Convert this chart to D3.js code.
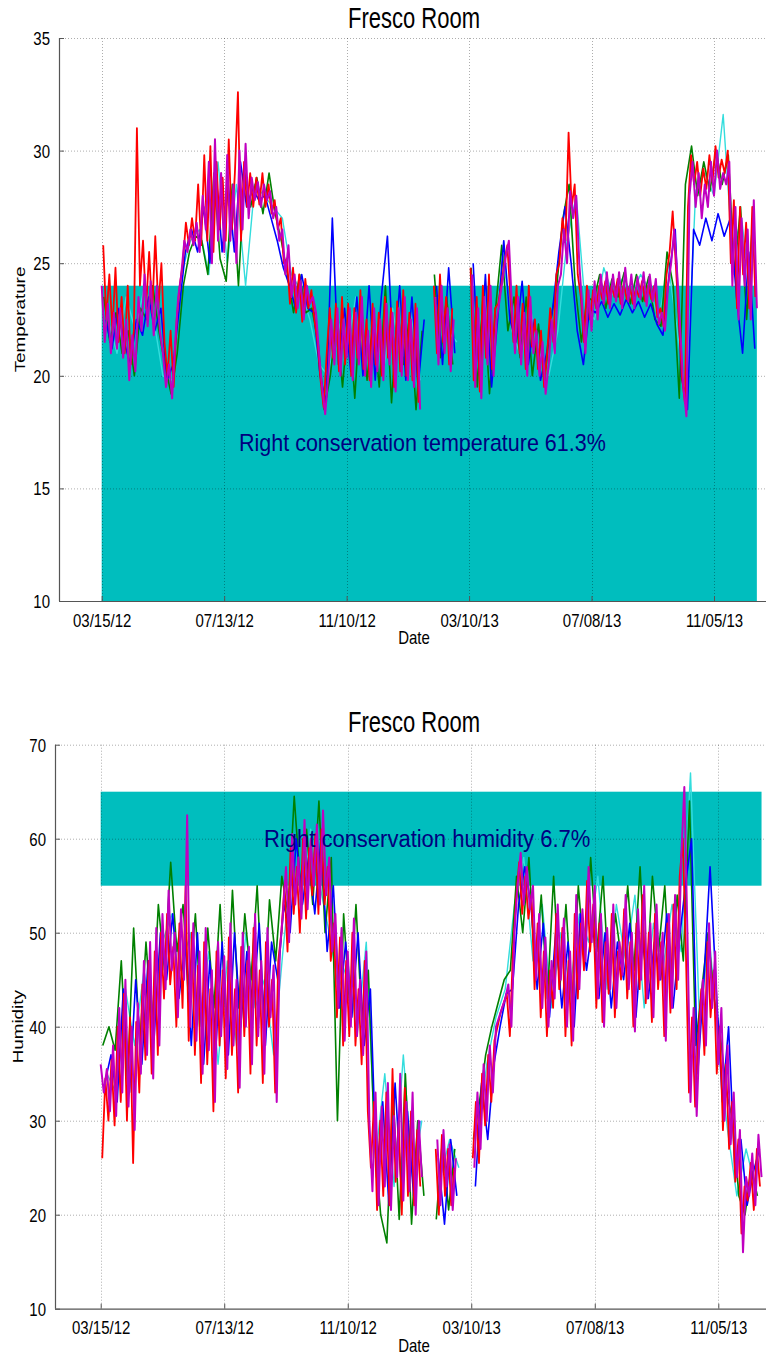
<!DOCTYPE html>
<html><head><meta charset="utf-8">
<script src="https://cdn.jsdelivr.net/npm/d3@7"></script>
<style>html,body{margin:0;padding:0;background:#fff;}svg{display:block;}</style>
</head><body>
<svg id="fig" width="766" height="1357"></svg>
<script>
// ---------------- DATA ----------------
const seriesStart = "2012-03-15";
const dateTicks = ["2012-03-15","2012-07-13","2012-11-10","2013-03-10","2013-07-08","2013-11-05"];
const bandStart = "2012-03-15", bandEnd = "2013-12-17";
const tempTicks = [10,15,20,25,30,35];
const humTicks = [10,20,30,40,50,60,70];
const tempBand = [10,24];
const humBand = [55,65];
const tempText = "Right conservation temperature 61.3%";
const humText = "Right conservation humidity 6.7%";
const seriesColors = {cyan:"#33dddd", green:"#008000", blue:"#0000ff", red:"#ff0000", magenta:"#c000c0"};
// sampling (days from seriesStart): [offset, step]
const sampling = {magenta:[0,3], red:[1.5,3], green:[2,6], blue:[4,6], cyan:[6,9]};

// Temperature (deg C)
const tempMagenta = [
24.0,21.5,23.2,21.0,22.8,21.2,23.0,20.8,22.5,19.8,
21.8,20.2,23.5,22.0,24.5,22.2,24.2,21.8,24.0,22.0,
21.0,19.5,20.5,19.0,21.5,23.5,24.5,26.0,25.5,26.5,
25.8,26.8,25.5,28.0,26.5,29.5,25.0,30.5,26.0,29.0,
25.5,29.8,26.0,28.5,25.0,30.0,26.5,30.3,27.0,28.8,
27.8,28.6,27.5,28.5,27.8,28.2,27.0,27.5,26.0,26.5,
24.5,25.8,23.5,24.5,23.0,24.2,22.5,24.0,23.2,23.5,
22.8,21.0,19.5,18.3,20.0,22.5,20.5,23.0,20.0,22.5,
20.8,23.0,19.8,22.8,20.5,23.5,20.0,22.0,19.5,23.0,
20.2,22.5,19.8,23.2,20.5,22.8,19.3,23.0,20.0,23.5,
19.8,22.5,19.5,23.0,18.5,null,null,null,null,23.5,
20.5,24.0,21.0,23.0,20.2,22.5,null,null,null,null,
null,24.5,19.5,23.0,19.0,23.5,20.5,24.0,20.0,22.5,
23.4,24.3,25.3,26.0,23.0,21.0,23.5,20.5,22.8,20.0,
23.5,21.0,22.0,20.0,21.5,19.2,20.5,22.5,21.0,24.0,
24.5,26.5,25.0,28.2,27.0,28.0,25.0,23.0,21.0,23.8,
22.0,24.2,22.5,24.5,23.2,24.6,23.0,24.5,23.3,24.6,
23.0,24.8,23.3,24.5,23.0,24.4,23.4,24.6,23.1,24.5,
23.3,24.3,22.3,22.8,22.0,24.0,25.0,26.5,24.5,22.0,
19.5,18.2,28.0,29.5,27.5,29.0,27.0,28.5,27.5,29.5,
28.0,30.0,28.3,29.0,28.5,29.5,24.0,27.5,22.5,27.0,
24.0,26.5,22.5,27.8,23.0];
const tempRed = [
25.8,22.5,24.5,22.0,24.8,21.5,23.5,21.0,24.0,20.5,
22.0,31.0,24.0,26.0,23.0,25.5,22.8,26.2,23.0,25.0,
21.5,20.0,22.0,19.5,22.5,24.0,25.0,26.8,25.8,27.0,
26.0,28.5,25.8,29.8,26.0,30.2,25.5,29.5,26.5,28.8,
26.0,30.5,26.5,29.0,32.6,26.0,29.5,27.5,29.0,27.5,
28.8,27.6,29.0,27.5,28.5,27.2,27.8,26.5,27.0,25.0,
25.2,23.2,24.8,22.8,24.5,22.4,24.3,23.0,23.8,22.5,
21.5,19.8,18.6,21.0,23.0,20.8,23.2,20.2,23.5,20.5,
23.2,20.0,23.0,20.8,23.8,20.3,22.5,19.8,23.2,20.5,
22.8,20.0,23.5,20.8,23.0,19.5,23.3,20.2,23.8,20.0,
22.8,19.8,23.2,18.8,null,null,null,null,24.0,21.0,
24.5,21.5,23.5,20.5,23.0,null,null,null,null,null,
24.8,19.8,23.5,19.3,24.0,20.8,24.5,20.3,23.0,23.2,
24.0,25.0,25.8,23.5,21.5,24.0,21.0,23.2,20.3,24.0,
21.3,22.5,20.3,22.0,19.5,21.0,23.0,21.5,24.5,25.0,
27.0,26.0,30.8,27.5,28.5,24.5,23.5,21.5,24.0,22.5,
23.8,23.0,24.0,23.4,24.2,23.2,24.0,23.5,24.3,23.2,
24.1,23.4,24.0,23.2,23.9,23.5,24.2,23.3,24.0,23.4,
24.0,22.6,23.0,22.2,24.5,25.5,27.3,25.0,22.5,20.0,
18.8,27.5,29.8,28.5,29.5,28.0,29.2,28.3,29.8,28.6,
30.2,28.8,29.6,29.0,30.0,25.0,27.8,23.0,27.5,24.5,
26.8,23.0,27.5,23.5];
const tempGreen = [
23.5,21.5,22.8,21.0,22.0,20.0,23.0,22.5,24.0,22.0,
20.5,19.2,21.0,24.0,25.5,26.2,26.0,24.5,29.0,25.2,
24.2,28.5,24.0,29.0,27.5,28.8,27.2,29.0,27.2,26.0,
24.5,22.8,24.5,22.8,23.0,21.5,18.5,20.0,22.5,19.5,
22.8,19.0,23.5,19.8,22.5,19.5,24.0,18.8,23.0,20.5,
22.8,18.5,22.0,null,24.5,20.8,23.5,20.5,null,null,
24.8,19.5,23.8,19.2,23.0,25.8,22.0,23.5,20.8,23.5,
20.0,22.3,19.8,22.5,24.0,27.0,28.5,24.0,21.5,23.5,
23.3,24.5,23.0,24.3,23.5,24.6,23.2,24.5,23.3,24.4,
22.5,22.2,25.5,24.0,19.0,28.5,30.2,28.0,29.5,28.2,
30.0,28.5,29.8,24.5,27.5,22.5,27.0];
const tempBlue = [
22.5,21.2,23.0,21.5,20.5,22.5,21.8,23.5,22.0,23.0,
19.8,20.5,23.0,25.5,26.5,25.5,27.5,25.0,29.0,25.5,
28.5,25.5,29.5,27.5,28.3,27.8,28.0,27.0,26.0,24.8,
24.0,23.0,24.5,23.0,22.8,20.0,18.8,27.0,20.5,23.0,
20.2,23.5,20.0,24.0,19.8,23.5,26.2,20.5,24.0,19.8,
23.5,19.5,22.5,null,24.0,20.5,24.8,21.0,null,null,
25.0,20.0,24.5,19.5,22.5,26.0,22.5,21.5,24.2,20.5,
22.5,19.8,21.0,23.0,25.5,27.5,25.0,22.0,20.5,23.0,
22.8,23.3,22.6,23.2,22.7,23.4,22.8,23.3,22.6,23.2,
22.3,21.8,24.5,26.5,20.0,18.5,26.5,25.8,27.0,26.0,
27.2,26.2,27.0,23.5,21.0,25.5,21.2];
const tempCyan = [
22.5,21.0,23.5,22.0,24.0,22.5,20.0,19.8,24.5,26.0,
26.5,24.5,29.5,25.0,28.5,24.0,28.5,28.0,27.5,27.0,
24.5,23.8,22.5,20.5,20.0,22.5,21.0,23.5,20.5,22.5,
20.2,23.0,20.5,22.8,19.8,null,23.5,22.0,21.5,null,
21.0,23.5,20.5,25.5,22.0,20.8,23.0,21.0,20.0,22.0,
26.0,28.0,23.0,22.5,24.8,23.6,24.3,23.5,24.5,23.8,
22.5,25.0,22.0,18.8,28.2,29.0,28.0,31.6,25.5,27.0,23.5];

// Humidity (%)
const humMagenta = [
36.0,33.0,35.5,31.0,38.0,30.5,42.0,33.0,45.0,31.5,
40.0,29.0,42.5,35.0,47.0,37.0,49.0,34.5,50.5,38.0,
52.0,44.0,54.5,46.0,50.0,41.0,52.5,45.0,62.5,40.0,
51.0,38.5,48.0,35.0,50.5,37.5,46.0,32.0,49.0,39.0,
47.5,35.5,51.0,38.0,45.0,33.5,50.0,40.0,48.5,36.0,
52.0,39.0,47.0,35.0,50.5,41.0,46.5,32.0,48.0,52.0,
57.0,49.0,60.5,53.0,58.0,51.5,62.0,52.5,60.0,55.0,
61.5,53.0,63.0,54.0,58.0,48.0,52.0,42.0,50.5,38.5,
48.0,40.0,51.5,39.0,45.0,37.0,48.0,30.0,22.5,33.0,
21.0,31.5,23.0,34.0,20.5,30.5,24.0,35.0,21.5,32.0,
22.5,33.0,20.0,30.0,24.0,null,null,null,null,28.0,
21.0,29.0,23.0,27.5,20.5,26.0,null,null,null,null,
null,25.0,33.0,27.0,36.0,30.0,38.0,33.0,40.0,41.0,
42.0,43.0,44.5,40.0,50.0,55.0,58.5,53.0,57.0,52.5,
55.0,45.0,52.0,42.0,49.5,40.0,47.0,43.0,53.0,45.0,
51.5,40.0,48.0,38.5,54.0,44.0,52.5,47.0,57.0,49.0,
55.0,43.0,52.0,40.0,50.5,44.0,53.0,42.0,49.0,45.5,
54.0,44.0,50.0,39.5,52.5,45.0,55.0,43.0,51.0,41.0,
53.0,45.0,50.0,38.5,52.0,42.0,54.0,45.0,58.0,65.5,
50.0,32.0,42.0,30.5,40.0,45.0,38.0,51.0,42.0,48.0,
36.0,42.0,30.0,38.0,27.5,33.0,24.0,29.0,16.0,24.0,
22.0,26.5,21.0,28.5,24.0];
const humRed = [
26.0,34.5,30.0,36.5,29.5,40.0,32.0,43.5,30.0,41.0,
25.5,40.5,33.0,44.5,36.5,47.0,35.0,48.0,37.0,50.0,
43.0,52.0,44.5,48.5,40.0,51.0,42.0,55.0,38.5,50.0,
37.0,46.5,34.0,49.0,36.0,44.0,31.0,48.0,38.0,46.0,
34.5,49.5,37.0,44.0,33.0,48.5,39.0,47.0,35.0,50.5,
38.0,46.0,34.0,49.0,40.0,45.0,33.0,47.0,50.0,55.0,
48.0,59.0,52.0,57.0,50.0,60.0,51.5,59.0,54.0,60.5,
52.0,61.0,53.0,57.0,47.0,51.0,41.0,49.5,38.0,47.0,
39.0,50.0,38.0,44.0,36.0,47.0,31.0,25.0,32.0,20.5,
30.0,22.0,33.0,21.0,35.5,23.5,30.0,20.0,33.5,22.0,
31.0,21.0,29.0,23.0,null,null,null,null,27.0,20.0,
28.5,22.0,27.0,21.0,25.0,null,null,null,null,null,
26.0,32.0,25.5,35.0,29.5,37.0,32.0,38.5,40.0,41.5,
42.5,43.5,39.0,48.0,53.5,57.5,52.0,56.0,51.5,54.0,
44.0,51.0,41.0,48.0,39.0,46.0,42.0,52.0,44.0,50.5,
39.0,47.0,38.0,52.0,43.0,51.0,46.0,55.5,48.0,53.0,
42.0,51.0,40.5,49.0,43.5,52.0,41.0,48.0,45.0,52.5,
43.0,49.0,40.0,51.0,44.0,54.0,42.5,50.0,40.5,52.0,
44.0,49.0,39.0,51.0,41.5,53.0,44.0,56.0,60.0,48.0,
33.0,41.0,31.5,39.0,44.0,37.0,49.0,41.0,46.0,35.0,
40.0,29.0,36.0,27.0,32.0,23.5,28.0,18.0,23.0,21.5,
25.5,20.5,27.0,23.0];
const humGreen = [
38.0,40.0,37.5,47.0,34.0,50.5,38.0,49.0,40.0,53.0,
46.0,57.5,48.0,53.0,44.0,52.0,40.0,50.5,42.0,53.0,
40.0,54.5,42.0,52.0,45.0,55.0,41.0,53.5,47.0,56.0,
52.0,64.5,55.0,61.0,53.0,64.0,50.0,58.0,30.0,52.0,
42.0,53.0,40.0,46.0,28.0,20.0,17.0,33.0,19.5,35.0,
19.0,30.0,22.0,null,19.5,28.0,20.5,27.0,null,null,
28.0,32.0,37.0,40.0,42.5,45.0,46.0,56.0,50.0,58.0,
46.0,54.0,43.0,56.0,44.0,53.0,42.0,55.0,47.0,58.0,
48.0,56.0,44.0,52.0,47.0,55.0,46.0,57.0,44.0,56.0,
48.0,55.0,43.0,54.0,47.0,64.0,38.0,44.0,50.0,43.0,
39.0,33.0,30.0,22.0,20.0,25.0,22.0];
const humBlue = [
34.0,37.0,32.0,44.0,33.0,45.0,36.0,47.0,39.0,50.0,
45.0,52.0,43.0,49.0,38.0,50.0,36.0,47.0,38.0,49.0,
37.0,50.0,40.0,48.0,42.0,51.0,38.0,49.0,45.0,53.0,
50.0,60.0,53.0,58.0,52.0,60.0,48.0,55.0,42.0,49.0,
41.0,50.0,38.0,44.0,24.0,32.0,21.0,34.0,23.0,31.0,
22.0,30.0,null,null,26.0,19.0,28.0,22.0,null,null,
23.0,34.0,28.0,36.0,40.0,43.5,44.0,53.0,57.0,53.0,
44.0,51.0,41.0,50.0,42.0,49.0,40.0,52.0,46.0,51.0,
43.0,50.0,42.0,49.0,45.0,51.0,41.0,50.0,43.0,49.0,
45.0,52.0,42.0,49.0,55.0,60.0,35.0,45.0,57.0,44.0,
32.0,40.0,25.0,28.0,21.0,24.5,27.0];
const humCyan = [
35.0,33.0,44.0,38.0,46.0,40.0,49.0,52.0,46.0,50.0,
40.0,48.0,36.0,47.0,38.0,50.0,42.0,45.0,37.0,48.0,
58.0,52.0,61.0,55.0,50.0,44.0,47.0,39.0,49.0,26.0,
35.0,23.0,37.0,24.0,30.0,null,24.0,28.0,25.0,null,
28.0,36.0,41.0,44.0,53.0,58.0,47.0,53.0,42.0,50.0,
44.0,52.0,49.0,56.0,44.0,53.0,47.0,54.0,42.0,51.0,
46.0,53.0,48.0,67.0,40.0,50.0,38.0,29.0,22.0,27.0,23.0];

// ---------------- DRAWING ----------------
const svg = d3.select("#fig");
const FONT = "'Liberation Sans', Arial, Helvetica, sans-serif";
const parse = d3.utcParse("%Y-%m-%d");
const fmt = d3.utcFormat("%m/%d/%y");
const t0 = parse(seriesStart);
const strokeW = {cyan:1.4, green:1.6, blue:1.6, red:1.8, magenta:2.0};

function pts(values, key){
  const [off, step] = sampling[key];
  return values.map((v,i)=>({t: new Date(t0.getTime() + (off + i*step)*86400000), v}));
}

function label(g, x, y, str, o){
  return g.append("text")
    .attr("transform", `translate(${x},${y}) rotate(${o.rot||0}) scale(${o.sx||1},${o.sy||1})`)
    .attr("font-family", FONT).attr("font-size", o.size)
    .attr("text-anchor", o.anchor||"middle")
    .attr("fill", o.fill||"#000")
    .attr("dy", o.dy!=null?o.dy:"0.35em")
    .text(str);
}

function drawChart(cfg){
  const g = svg.append("g");
  const x = d3.scaleUtc().domain([parse(dateTicks[0]), parse(dateTicks[5])]).range([cfg.tickPx0, cfg.tickPx5]);
  const xl = x.invert(cfg.left), xr = x.invert(cfg.right);
  x.domain([xl, xr]).range([cfg.left, cfg.right]);
  const y = d3.scaleLinear().domain(cfg.yDomain).range([cfg.bottom, cfg.top]);

  // band
  g.append("rect")
    .attr("x", x(parse(bandStart))).attr("width", x(parse(bandEnd)) - x(parse(bandStart)))
    .attr("y", y(cfg.band[1])).attr("height", y(cfg.band[0]) - y(cfg.band[1]))
    .attr("fill", "#00bebe");

  // grid
  const grid = g.append("g").attr("stroke", "#000").attr("stroke-opacity", 0.32)
    .attr("stroke-dasharray", "1,2").attr("stroke-width", 1);
  cfg.yTicks.forEach(v => { if (v !== cfg.yDomain[0]) grid.append("line")
      .attr("x1", cfg.left).attr("x2", 766).attr("y1", y(v)+0.5).attr("y2", y(v)+0.5); });
  dateTicks.forEach(d => grid.append("line")
      .attr("x1", Math.round(x(parse(d)))+0.5).attr("x2", Math.round(x(parse(d)))+0.5)
      .attr("y1", cfg.top).attr("y2", cfg.bottom));

  // lines
  const line = d3.line().defined(d => d.v != null).x(d => x(d.t)).y(d => y(d.v));
  cfg.series.forEach(([key, vals]) => {
    g.append("path").datum(pts(vals, key)).attr("d", line)
      .attr("fill", "none").attr("stroke", seriesColors[key])
      .attr("stroke-width", strokeW[key]).attr("stroke-linejoin", "round");
  });

  // axes
  const yAxis = d3.axisLeft(y).tickValues(cfg.yTicks).tickSize(-5).tickPadding(9).tickFormat(d3.format("d"));
  const ya = g.append("g").attr("transform", `translate(${cfg.left},0)`).call(yAxis);
  const xAxis = d3.axisBottom(x).tickValues(dateTicks.map(parse)).tickSize(-5).tickPadding(10).tickFormat(fmt);
  const xa = g.append("g").attr("transform", `translate(0,${cfg.bottom})`).call(xAxis);
  [ya, xa].forEach(a => {
    a.select(".domain").attr("stroke", "#555").attr("stroke-width", 1.2);
    a.selectAll(".tick line").attr("stroke", "#555");
    a.selectAll(".tick text").attr("font-family", FONT).attr("font-size", 15).attr("fill", "#000");
  });
  ya.select(".domain").attr("d", `M0.5,${cfg.top}V${cfg.bottom}`);
  xa.select(".domain").attr("d", `M${cfg.left},0.5H${cfg.right}`);
  ya.selectAll(".tick text").attr("transform", "scale(1,1.25)").attr("y", 0).attr("dy","0.35em");
  xa.selectAll(".tick text").attr("y", 0)
      .attr("transform", `translate(0,${cfg.xLabelY}) scale(1,1.25)`).attr("dy", "0.35em");

  // titles
  label(g, 414, cfg.titleY, "Fresco Room", {size: 22, sy: 1.3});
  label(g, 414, cfg.dateY, "Date", {size: 15, sy: 1.25});
  label(g, cfg.ylabX, (cfg.top+cfg.bottom)/2, cfg.ylab, {size: 14.5, rot: -90, sx: 1.3});
  label(g, cfg.textX, cfg.textY, cfg.text, {size: cfg.textSize, anchor: "start", fill: "#000080", sy: 1.1});
}

drawChart({
  left: 59, right: 780, top: 38, bottom: 601, tickPx0: 101.7, tickPx5: 714,
  yDomain: [10,35], yTicks: tempTicks, band: tempBand,
  series: [["cyan",tempCyan],["green",tempGreen],["blue",tempBlue],["red",tempRed],["magenta",tempMagenta]],
  titleY: 18, dateY: 637, xLabelY: 19, ylab: "Temperature", ylabX: 20,
  text: tempText, textX: 239, textY: 443, textSize: 21.5
});
drawChart({
  left: 55, right: 780, top: 744.7, bottom: 1308.7, tickPx0: 100.7, tickPx5: 718.3,
  yDomain: [10,70], yTicks: humTicks, band: humBand,
  series: [["cyan",humCyan],["green",humGreen],["blue",humBlue],["red",humRed],["magenta",humMagenta]],
  titleY: 722, dateY: 1345, xLabelY: 19, ylab: "Humidity", ylabX: 18,
  text: humText, textX: 264, textY: 839, textSize: 22
});
</script>
</body></html>
